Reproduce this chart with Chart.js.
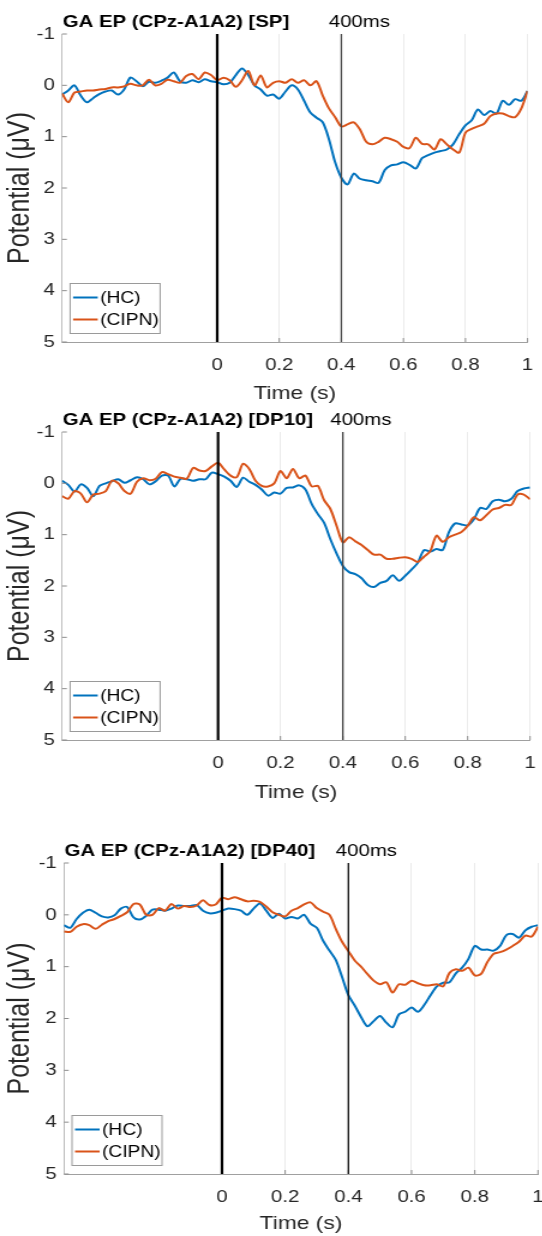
<!DOCTYPE html>
<html>
<head>
<meta charset="utf-8">
<script src="https://cdn.jsdelivr.net/npm/chart.js@4.4.1/dist/chart.umd.min.js"></script>
<style>
  html, body { margin: 0; padding: 0; background: #fff; }
  body { width: 542px; height: 1236px; overflow: hidden; position: relative; }
  /* the source figure is stretched horizontally, so each panel is too */
  .panel { position: absolute; left: 0; transform-origin: 0 0; transform: scaleX(1.2); }
  .panel canvas { display: block; }
</style>
</head>
<body>
<div class="panel" style="top:0px"><canvas id="chart-sp" width="470" height="405"></canvas></div>
<div class="panel" style="top:398px"><canvas id="chart-dp10" width="470" height="406"></canvas></div>
<div class="panel" style="top:828px"><canvas id="chart-dp40" width="470" height="407"></canvas></div>
<script>
// --- data ---
const timeSec = [-0.5,-0.48,-0.46,-0.44,-0.42,-0.4,-0.38,-0.36,-0.34,-0.32,-0.3,-0.28,-0.26,-0.24,-0.22,-0.2,-0.18,-0.16,-0.14,-0.12,-0.1,-0.08,-0.06,-0.04,-0.02,0,0.02,0.04,0.06,0.08,0.1,0.12,0.14,0.16,0.18,0.2,0.22,0.24,0.26,0.28,0.3,0.32,0.34,0.36,0.38,0.4,0.42,0.44,0.46,0.48,0.5,0.52,0.54,0.56,0.58,0.6,0.62,0.64,0.66,0.68,0.7,0.72,0.74,0.76,0.78,0.8,0.82,0.84,0.86,0.88,0.9,0.92,0.94,0.96,0.98,1];

const hcSP = [0.18,0.1,0.0,0.2,0.33,0.25,0.17,0.12,0.1,0.18,
  0.08,-0.15,-0.08,0.02,-0.07,-0.05,-0.09,-0.15,-0.25,-0.08,
  -0.05,-0.1,-0.06,-0.12,-0.08,-0.06,-0.02,-0.05,-0.2,-0.33,
  -0.2,0.0,0.08,0.2,0.18,0.26,0.12,0.0,0.08,0.3,
  0.53,0.63,0.72,1.05,1.5,1.8,1.93,1.72,1.82,1.85,
  1.87,1.9,1.65,1.56,1.54,1.5,1.55,1.62,1.42,1.36,
  1.31,1.28,1.25,1.15,0.95,0.78,0.68,0.47,0.58,0.5,
  0.55,0.3,0.38,0.27,0.3,0.11];
const cipnSP = [0.16,0.33,0.14,0.12,0.1,0.1,0.08,0.07,0.04,0.04,
  0.02,-0.03,0.0,0.0,-0.11,0.0,-0.03,-0.11,-0.08,-0.05,
  -0.18,-0.22,-0.12,-0.25,-0.2,-0.1,-0.15,-0.1,0.03,-0.1,
  -0.28,0.0,-0.19,0.04,-0.05,-0.08,-0.05,-0.12,-0.05,-0.1,
  0.0,-0.08,0.2,0.45,0.62,0.8,0.76,0.72,0.86,1.1,
  1.15,1.1,1.02,1.05,1.1,1.2,1.22,1.02,1.14,1.15,
  1.25,1.05,1.15,1.25,1.31,0.92,0.85,0.8,0.75,0.6,
  0.55,0.55,0.6,0.62,0.45,0.11];

const hcDP10 = [-0.05,0.03,0.16,0.02,0.09,0.25,0.05,0.0,-0.04,-0.08,
  -0.01,-0.06,-0.12,-0.08,0.02,-0.04,-0.15,-0.15,0.06,-0.09,
  -0.08,-0.05,-0.08,-0.08,-0.21,-0.18,-0.13,-0.05,0.07,-0.11,
  -0.03,0.03,0.12,0.24,0.18,0.2,0.09,0.08,0.04,0.12,
  0.4,0.6,0.77,1.09,1.37,1.61,1.73,1.77,1.85,1.98,
  2.02,1.94,1.9,1.79,1.9,1.8,1.68,1.55,1.3,1.33,
  1.28,1.3,0.95,0.78,0.8,0.82,0.7,0.48,0.5,0.35,
  0.32,0.35,0.3,0.15,0.1,0.08];
const cipnDP10 = [0.25,0.3,0.15,0.2,0.37,0.22,0.2,0.15,-0.05,0.0,
  0.15,0.2,-0.03,-0.1,-0.06,-0.09,-0.22,-0.18,-0.13,-0.11,
  -0.09,-0.3,-0.25,-0.24,-0.33,-0.4,-0.27,-0.15,-0.12,-0.38,
  -0.28,-0.05,0.05,0.06,0.0,-0.24,-0.1,-0.28,-0.1,-0.15,
  0.06,0.05,0.33,0.5,0.83,1.15,1.05,1.13,1.2,1.3,
  1.39,1.39,1.47,1.47,1.45,1.44,1.47,1.53,1.43,1.32,
  1.02,1.14,1.05,1.0,0.95,0.83,0.66,0.72,0.62,0.51,
  0.48,0.42,0.42,0.22,0.22,0.31];

const hcDP40 = [0.2,0.25,0.08,-0.04,-0.1,-0.04,0.03,0.05,0.01,-0.12,
  -0.15,0.05,0.09,0.02,-0.1,-0.1,-0.08,-0.12,-0.18,-0.17,
  -0.17,-0.19,-0.08,-0.03,-0.04,-0.08,-0.12,-0.11,-0.08,0.0,
  -0.12,-0.22,-0.08,0.06,-0.02,0.07,0.04,0.07,0.0,0.17,
  0.25,0.5,0.69,0.87,1.2,1.55,1.75,1.97,2.15,2.05,
  1.95,2.08,2.17,1.92,1.87,1.79,1.87,1.74,1.55,1.38,
  1.31,1.3,1.13,1.02,0.85,0.6,0.67,0.67,0.69,0.6,
  0.39,0.37,0.44,0.3,0.23,0.2];
const cipnDP40 = [0.32,0.33,0.23,0.18,0.2,0.27,0.19,0.12,0.08,0.02,
  -0.05,-0.21,-0.2,0.0,0.0,-0.13,-0.08,-0.21,-0.12,-0.17,
  -0.15,-0.18,-0.28,-0.19,-0.2,-0.33,-0.3,-0.34,-0.3,-0.26,
  -0.27,-0.25,-0.16,-0.05,0.0,0.03,-0.08,-0.13,-0.2,-0.24,
  -0.13,-0.06,0.0,0.27,0.52,0.7,0.88,1.0,1.14,1.27,
  1.34,1.3,1.5,1.34,1.35,1.27,1.32,1.36,1.36,1.34,
  1.38,1.12,1.05,1.08,1.02,1.17,1.14,0.91,0.75,0.72,
  0.67,0.6,0.52,0.4,0.42,0.23];

const seriesNames = ['(HC)', '(CIPN)'];
const seriesColors = ['#0072BD', '#D95319'];
const xTickValues = [0, 0.2, 0.4, 0.6, 0.8, 1];
const xTickLabels = ['0', '0.2', '0.4', '0.6', '0.8', '1'];
const yTickValues = [-1, 0, 1, 2, 3, 4, 5];
const yTickLabels = ['-1', '0', '1', '2', '3', '4', '5'];
const markerTimes = [0, 0.4];
const markerLabels = ['', '400ms'];

const FONT = '"Liberation Sans", Arial, Helvetica, sans-serif';
Chart.defaults.font.family = FONT;
Chart.defaults.color = '#262626';

function makePanel(id, title, hc, cipn, box) {
  const overlay = {
    id: 'overlay',
    afterDatasetsDraw(chart) {
      const { ctx, chartArea: a, scales: { x, y } } = chart;
      ctx.save();

      // small inward ticks like MATLAB
      ctx.strokeStyle = '#8c8c8c';
      ctx.lineWidth = 1;
      xTickValues.forEach(v => {
        const px = x.getPixelForValue(v);
        ctx.beginPath(); ctx.moveTo(px, a.bottom); ctx.lineTo(px, a.bottom - 4); ctx.stroke();
      });
      yTickValues.forEach(v => {
        const py = y.getPixelForValue(v);
        ctx.beginPath(); ctx.moveTo(a.left, py); ctx.lineTo(a.left + 4, py); ctx.stroke();
      });

      // event lines (stimulus at 0, 400ms)
      markerTimes.forEach((t, i) => {
        const px = x.getPixelForValue(t);
        ctx.strokeStyle = i === 0 ? '#000' : box.markerColor;
        ctx.lineWidth = i === 0 ? 2.2 : 1.3;
        ctx.beginPath(); ctx.moveTo(px, a.top); ctx.lineTo(px, a.bottom); ctx.stroke();
        if (markerLabels[i]) {
          ctx.fillStyle = '#000';
          ctx.font = '17px ' + FONT;
          ctx.textAlign = 'left';
          ctx.textBaseline = 'alphabetic';
          ctx.fillText(markerLabels[i], px - 10.5, a.top - 7);
        }
      });

      // legend box, lower left inside the axes
      const lx = a.left + 6.7, lw = 75, lh = 50;
      const ly = a.bottom - 8.5 - lh;
      ctx.fillStyle = '#fff';
      ctx.fillRect(lx, ly, lw, lh);
      ctx.strokeStyle = '#9a9a9a';
      ctx.lineWidth = 1;
      ctx.strokeRect(lx, ly, lw, lh);
      ctx.font = '16px ' + FONT;
      ctx.textBaseline = 'middle';
      seriesNames.forEach((name, i) => {
        const ry = ly + 14 + i * 22;
        ctx.strokeStyle = seriesColors[i];
        ctx.lineWidth = 2;
        ctx.beginPath(); ctx.moveTo(lx + 2.5, ry); ctx.lineTo(lx + 23, ry); ctx.stroke();
        ctx.fillStyle = '#000';
        ctx.fillText(name, lx + 25, ry + 1);
      });

      // title
      ctx.font = 'bold 17px ' + FONT;
      ctx.textBaseline = 'alphabetic';
      ctx.fillText(title, a.left + 0.5, a.top - 7);
      ctx.restore();
    }
  };

  const series = [hc, cipn];
  return new Chart(document.getElementById(id), {
    type: 'line',
    data: {
      datasets: series.map((vals, i) => ({
        label: seriesNames[i],
        data: timeSec.map((t, k) => ({ x: t, y: vals[k] })),
        borderColor: seriesColors[i],
        borderWidth: 2,
        pointRadius: 0,
        tension: 0.3,
        fill: false,
        order: 2 - i
      }))
    },
    options: {
      responsive: false,
      animation: false,
      events: [],
      layout: { padding: { top: box.padTop, right: box.padRight, bottom: 0, left: 0 } },
      plugins: { legend: { display: false }, tooltip: { enabled: false } },
      scales: {
        x: {
          type: 'linear',
          min: -0.5,
          max: 1,
          afterBuildTicks: s => { s.ticks = xTickValues.map(v => ({ value: v })); },
          afterFit: s => { s.height = box.xHeight; },
          ticks: {
            autoSkip: false,
            maxRotation: 0,
            padding: 13,
            font: { size: 17 },
            callback: v => xTickLabels[xTickValues.indexOf(v)]
          },
          grid: { color: '#ebebeb', drawTicks: false },
          border: { color: '#a0a0a0' },
          title: { display: true, text: 'Time (s)', font: { size: 19 }, padding: { top: 0, bottom: 0 } }
        },
        y: {
          type: 'linear',
          reverse: true,
          min: -1,
          max: 5,
          afterBuildTicks: s => { s.ticks = yTickValues.map(v => ({ value: v })); },
          afterFit: s => { s.width = box.yWidth; },
          ticks: {
            padding: 6,
            font: { size: 17 },
            callback: v => yTickLabels[yTickValues.indexOf(v)]
          },
          grid: { display: false, drawTicks: false },
          border: { color: '#bdbdbd' },
          title: { display: true, text: 'Potential (μV)', font: { size: 25 }, padding: { top: 2.5, bottom: 0 } }
        }
      }
    },
    plugins: [overlay]
  });
}

makePanel('chart-sp', 'GA EP (CPz-A1A2) [SP]', hcSP, cipnSP,
  { padTop: 34, padRight: 30.4, yWidth: 51.7, xHeight: 63, markerColor: '#444' });
makePanel('chart-dp10', 'GA EP (CPz-A1A2) [DP10]', hcDP10, cipnDP10,
  { padTop: 34, padRight: 28.3, yWidth: 51.7, xHeight: 64, markerColor: '#444' });
makePanel('chart-dp40', 'GA EP (CPz-A1A2) [DP40]', hcDP40, cipnDP40,
  { padTop: 35, padRight: 21.7, yWidth: 53.3, xHeight: 61, markerColor: '#111' });
</script>
</body>
</html>
